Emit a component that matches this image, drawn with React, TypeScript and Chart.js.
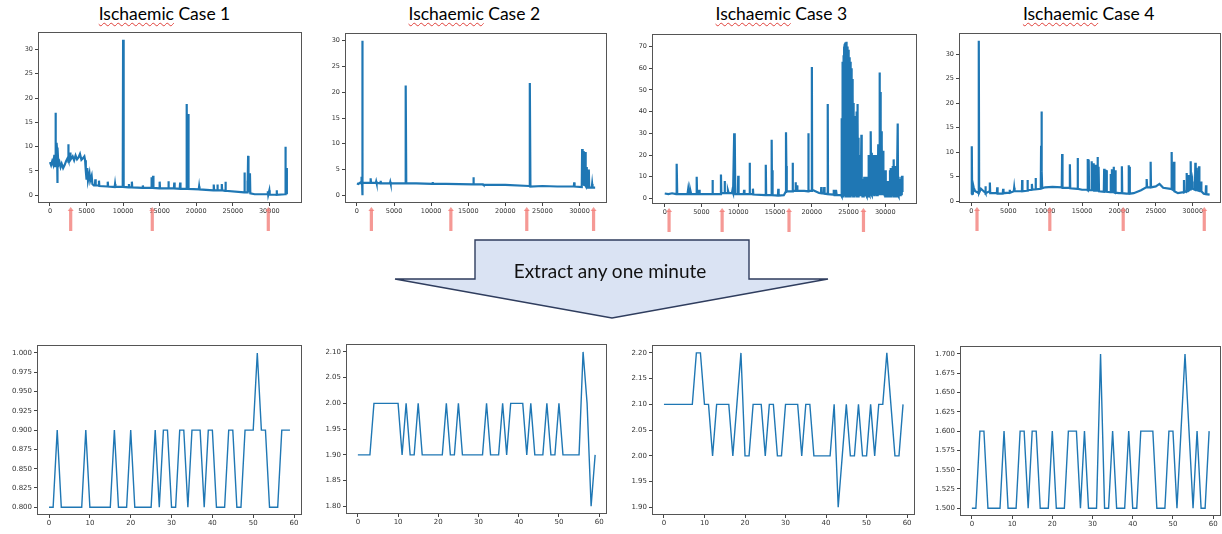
import React, { useEffect, useRef } from "react";
import { Chart, registerables } from "chart.js";
Chart.register(...registerables);

type Pt = [number, number];

// ---------- text ----------
const caseNames = ["Ischaemic Case 1", "Ischaemic Case 2", "Ischaemic Case 3", "Ischaemic Case 4"];
const arrowLabel = "Extract any one minute";

// ---------- ticks ----------
const topXTicks = [0, 5000, 10000, 15000, 20000, 25000, 30000];
const topYTicks30 = [0, 5, 10, 15, 20, 25, 30];
const topYTicks70 = [0, 10, 20, 30, 40, 50, 60, 70];
const minuteXTicks = [0, 10, 20, 30, 40, 50, 60];
const minuteYTicks1 = [0.8, 0.825, 0.85, 0.875, 0.9, 0.925, 0.95, 0.975, 1.0];
const minuteYTicks2 = [1.8, 1.85, 1.9, 1.95, 2.0, 2.05, 2.1];
const minuteYTicks3 = [1.9, 1.95, 2.0, 2.05, 2.1, 2.15, 2.2];
const minuteYTicks4 = [1.5, 1.525, 1.55, 1.575, 1.6, 1.625, 1.65, 1.675, 1.7];

// ---------- selected-minute markers (sample index) ----------
const case1Markers = [2830, 13990, 29860];
const case2Markers = [1950, 12660, 22890, 31890];
const case3Markers = [590, 7810, 16910, 27040];
const case4Markers = [760, 10630, 20580, 31570];

// ---------- full recordings (sample index, value) ----------
const case1Series: Pt[] = [
  [0, 6.8], [150, 6.2], [300, 7.0], [450, 6.3], [600, 8.3], [700, 6.0], [760, 6.2], [780, 17.0], [800, 6.5],
  [880, 6.3], [900, 10.8], [960, 9.5], [1000, 2.5], [1050, 9.8], [1150, 6.2], [1300, 6.8], [1450, 5.8], [1600, 6.5],
  [1800, 5.6], [2000, 6.2], [2200, 7.0], [2400, 7.6], [2480, 7.4], [2500, 10.5], [2550, 7.2], [2700, 7.5], [2750, 8.8],
  [2800, 7.3], [3100, 8.0], [3300, 7.2], [3500, 8.2], [3700, 7.4], [3900, 7.8], [4100, 8.5], [4300, 7.3], [4500, 7.6],
  [4700, 8.0], [4800, 7.2], [4900, 5.0], [5000, 3.2], [5100, 5.6], [5200, 3.0], [5400, 4.5], [5500, 3.0], [5700, 4.0],
  [5800, 2.3], [6000, 2.0], [6150, 2.0], [6200, 3.3], [6250, 2.0], [6650, 2.0], [6700, 3.0], [6750, 1.9], [7850, 1.8],
  [7900, 2.8], [7950, 1.8], [8850, 1.7], [8900, 2.3], [8950, 1.7], [9950, 1.7], [10000, 32.0], [10050, 15.5],
  [10100, 1.7], [10750, 1.6], [10800, 2.3], [10850, 1.6], [11150, 1.6], [11200, 2.8], [11250, 1.6], [12650, 1.5],
  [12700, 2.0], [12750, 1.5], [13850, 1.5], [13900, 3.7], [14000, 1.5], [14100, 4.0], [14150, 1.5], [14950, 1.4],
  [15000, 2.8], [15050, 1.4], [16150, 1.4], [16200, 2.9], [16250, 1.4], [16950, 1.4], [17000, 2.6], [17050, 1.4],
  [17750, 1.3], [17800, 2.6], [17850, 1.3], [18650, 1.3], [18700, 18.8], [18750, 1.3], [18800, 15.5], [18900, 16.7],
  [18950, 1.3], [20350, 1.2], [20400, 1.8], [20450, 1.2], [22350, 1.0], [22400, 2.2], [22450, 1.0], [22850, 1.0],
  [22900, 2.2], [22950, 1.0], [23450, 1.0], [23500, 2.3], [23550, 1.0], [23950, 0.9], [24000, 2.8], [24050, 0.9],
  [26550, 0.6], [26600, 4.7], [26650, 0.6], [26950, 0.6], [27000, 3.0], [27050, 0.8], [27100, 8.1], [27150, 1.0],
  [27300, 0.8], [27350, 4.5], [27400, 0.4], [28000, 0.2], [29750, 0.2], [29800, 0.8], [29850, 0.1], [29950, 0.1],
  [30000, 1.0], [30050, 0.1], [30950, 0.1], [31000, 1.0], [31050, 0.1], [32150, 0.2], [32200, 10.0], [32250, 2.0],
  [32300, 5.6], [32400, 0.2],
];

const case2Series: Pt[] = [
  [0, 2.3], [200, 2.2], [500, 2.5], [580, 2.3], [600, 3.6], [650, 2.3], [700, 2.3], [720, 30.0], [750, 0.0],
  [780, 2.4], [1200, 2.4], [1800, 2.4], [1850, 3.3], [1900, 2.4], [2550, 2.4], [2600, 2.7], [2650, 2.4], [3150, 2.3],
  [3200, 2.8], [3250, 2.3], [4450, 2.3], [4500, 2.6], [4550, 2.3], [6500, 2.3], [6550, 14.0], [6600, 21.3],
  [6650, 2.3], [8000, 2.3], [10150, 2.2], [10200, 2.6], [10250, 2.2], [12000, 2.2], [15650, 2.1], [15700, 3.5],
  [15750, 2.1], [17000, 2.1], [17050, 2.2], [17100, 2.0], [20000, 2.0], [23200, 1.8], [23280, 14.0], [23320, 21.8],
  [23380, 1.7], [25000, 1.8], [27000, 1.7], [29230, 1.7], [29280, 2.5], [29330, 1.7], [30300, 1.6], [30350, 9.0],
  [30380, 2.0], [30420, 8.8], [30450, 2.0], [30480, 8.6], [30510, 2.0], [30540, 8.5], [30570, 2.5], [30600, 8.5],
  [30630, 2.0], [30660, 8.4], [30690, 2.5], [30720, 8.3], [30750, 2.0], [30780, 8.4], [30810, 2.5], [30840, 7.0],
  [30870, 1.8], [30900, 5.5], [30950, 1.5], [31000, 4.5], [31050, 1.5], [31200, 1.5], [31250, 5.0], [31300, 1.5],
  [31650, 1.5], [31700, 2.2], [31750, 1.5], [32100, 1.5],
];

const case3Series: Pt[] = [
  [0, 2.3], [500, 2.0], [1000, 2.4], [1550, 2.0], [1600, 14.5], [1650, 16.0], [1700, 2.0], [3100, 2.0], [3200, 4.5],
  [3300, 2.0], [3450, 2.0], [3500, 3.5], [3600, 2.0], [4300, 2.0], [4350, 10.0], [4400, 2.0], [4650, 2.0], [4700, 4.0],
  [4750, 2.0], [6450, 2.0], [6500, 8.5], [6550, 2.0], [7600, 2.0], [7650, 11.0], [7700, 2.5], [8100, 2.5], [8150, 8.0],
  [8200, 2.5], [8550, 2.5], [8600, 3.7], [8700, 2.5], [9150, 2.5], [9200, 3.5], [9300, 2.5], [9400, 2.5], [9450, 30.0],
  [9500, 2.5], [9550, 29.5], [9600, 2.0], [9950, 2.0], [10000, 10.5], [10050, 2.0], [10750, 2.0], [10800, 4.0],
  [10850, 2.0], [11500, 2.0], [11550, 16.5], [11600, 2.0], [11950, 2.0], [12000, 4.5], [12050, 1.8], [13700, 1.5],
  [13750, 15.5], [13800, 1.5], [14500, 1.5], [14550, 27.0], [14600, 1.5], [14650, 13.0], [14700, 1.5], [15400, 1.3],
  [15450, 4.5], [15500, 1.3], [16200, 1.5], [16450, 3.0], [16500, 30.5], [16550, 15.0], [16600, 3.3], [17350, 3.3],
  [17400, 16.5], [17450, 3.5], [17750, 3.5], [17800, 7.5], [17850, 3.5], [17950, 3.5], [18000, 6.0], [18050, 3.5],
  [19000, 3.5], [19500, 3.3], [19520, 15.0], [19560, 30.0], [19600, 3.5], [20000, 3.5], [20020, 60.5], [20060, 4.0],
  [21000, 2.5], [21250, 2.4], [21300, 5.3], [21350, 2.3], [21650, 2.3], [21700, 5.3], [21750, 2.2], [22150, 2.0],
  [22180, 43.5], [22220, 2.0], [22950, 1.8], [23000, 4.0], [23100, 1.5], [23250, 1.5], [23300, 4.0], [23400, 1.5],
  [24000, 1.5],
  [24050, 10], [24080, 1], [24110, 37], [24140, 1], [24170, 20], [24200, 1], [24230, 63], [24260, 1], [24290, 50],
  [24320, 1], [24350, 66], [24380, 1], [24410, 70], [24440, 1], [24470, 71], [24500, 1], [24530, 71.5], [24560, 1],
  [24590, 72], [24620, 1], [24650, 72], [24680, 1], [24710, 72.2], [24740, 1], [24770, 71], [24800, 1], [24830, 70],
  [24860, 1], [24890, 69], [24920, 1], [24950, 68.5], [24980, 1], [25010, 68], [25040, 1], [25070, 66], [25100, 1],
  [25130, 65], [25160, 1], [25190, 64.5], [25220, 1], [25250, 63], [25280, 1], [25310, 61], [25340, 1], [25370, 60],
  [25400, 1], [25430, 59], [25460, 1], [25490, 55], [25520, 1], [25550, 52], [25580, 1], [25610, 48], [25640, 1],
  [25670, 44], [25700, 1], [25730, 40], [25760, 1], [25790, 38], [25820, 1], [25850, 37], [25880, 1], [25910, 37.5],
  [25940, 1], [25970, 36], [26000, 1], [26030, 36], [26060, 1], [26090, 37], [26120, 1], [26150, 40], [26180, 1],
  [26210, 43.5], [26240, 1], [26270, 35], [26300, 1], [26330, 28], [26360, 1], [26390, 22], [26420, 1], [26450, 20],
  [26480, 1], [26510, 14], [26540, 1], [26570, 10], [26600, 1], [26650, 6], [26700, 1], [26760, 29.3], [26800, 1],
  [26850, 5], [26900, 1],
  [27000, 1], [27050, 9], [27100, 1], [27150, 10], [27200, 1.5], [27250, 9.5], [27300, 1], [27350, 10], [27400, 1.5],
  [27450, 9], [27500, 1], [27550, 10], [27600, 1.5], [27650, 9], [27700, 1], [27750, 20], [27800, 2], [27850, 14],
  [27900, 1.5], [27950, 20], [28000, 2], [28050, 31], [28100, 2], [28150, 21], [28200, 1.5], [28250, 12], [28300, 1.5],
  [28350, 18], [28400, 2], [28450, 20], [28500, 1.5], [28550, 19], [28600, 2], [28650, 20], [28700, 1.5], [28750, 18],
  [28800, 2], [28850, 20], [28900, 1.5], [28950, 19], [29000, 2], [29050, 25], [29100, 1.5], [29150, 20], [29200, 2],
  [29230, 58], [29270, 2], [29330, 49], [29380, 1.5], [29450, 31], [29500, 2], [29550, 25], [29600, 1.5], [29700, 22],
  [29750, 1.5], [29850, 13], [29900, 1], [29950, 12], [30000, 1], [30050, 13], [30100, 1], [30200, 8], [30250, 1],
  [30350, 8], [30400, 1], [30500, 7.5], [30550, 1], [30650, 13], [30700, 1], [30750, 14], [30800, 1], [30850, 12],
  [30900, 1.5], [30950, 14], [31000, 1], [31050, 15], [31100, 1.5], [31150, 18], [31200, 1], [31300, 15], [31350, 1],
  [31450, 14], [31500, 1], [31550, 15], [31600, 1], [31700, 34.5], [31750, 1.5], [31800, 10], [31850, 1], [31900, 9],
  [31950, 1], [32050, 8], [32100, 1], [32200, 10], [32250, 1.5], [32300, 10.5], [32350, 3],
];

const case4Series: Pt[] = [
  [0, 1.4], [50, 11.2], [100, 1.5], [200, 3.5], [300, 2.8], [500, 2.0], [800, 1.8], [950, 1.6], [1000, 32.7],
  [1050, 1.7], [1300, 2.5], [1800, 1.8], [1850, 1.8], [1900, 3.0], [1950, 1.6], [2450, 2.0], [2500, 3.8], [2550, 1.6],
  [3450, 1.6], [3500, 2.8], [3550, 1.5], [4250, 1.5], [4300, 2.5], [4350, 1.6], [5150, 1.7], [5200, 2.3], [5250, 1.7],
  [5750, 2.0], [5800, 2.7], [5850, 2.0], [6850, 2.0], [6880, 4.3], [6920, 2.0], [7550, 2.1], [7600, 4.3], [7650, 2.2],
  [8150, 2.3], [8200, 3.5], [8250, 2.3], [8650, 2.4], [8700, 4.7], [8750, 2.4], [9400, 2.5], [9450, 11.3],
  [9500, 18.3], [9550, 6.0], [9600, 2.6], [10000, 2.8], [11000, 2.9], [12250, 2.8], [12300, 9.6], [12350, 2.7],
  [13300, 2.7], [13350, 7.5], [13400, 2.6], [14350, 2.5], [14400, 8.8], [14450, 2.5], [15000, 2.3], [15700, 2.3],
  [15750, 8.6], [15800, 2.2], [15850, 2.2], [15900, 8.5], [15950, 2.2], [16250, 2.2], [16290, 8.1], [16330, 2.2],
  [16410, 2.2], [16450, 7.5], [16500, 2.2], [16560, 2.2], [16600, 7.7], [16650, 2.1], [16790, 2.1], [16830, 7.4],
  [16870, 2.1], [17060, 2.1], [17100, 9.0], [17150, 2.1], [17200, 2.1], [17240, 7.0], [17300, 2.0], [17950, 1.9],
  [18000, 6.6], [18050, 1.9], [18140, 1.9], [18190, 6.4], [18240, 1.9], [18290, 1.9], [18330, 6.3], [18380, 1.9],
  [18820, 1.8], [18870, 5.5], [18920, 1.8], [19000, 1.8], [19050, 6.5], [19100, 1.8], [19230, 1.8], [19280, 7.0],
  [19330, 1.8], [19450, 1.7], [19500, 6.3], [19550, 1.7], [20000, 1.6], [20350, 1.6], [20400, 7.1], [20450, 1.6],
  [21000, 1.5], [21260, 1.5], [21310, 7.3], [21360, 1.5], [21400, 1.5], [21450, 7.0], [21500, 1.5], [22000, 1.6],
  [23000, 2.2], [23700, 2.8], [23760, 4.5], [23820, 2.8], [24250, 2.8], [24300, 8.0], [24350, 2.8], [25000, 3.0],
  [25500, 3.5], [26000, 2.7], [27000, 2.5], [27100, 2.5], [27150, 10.0], [27200, 2.4], [27420, 2.2], [27470, 8.0],
  [27520, 2.0], [28000, 1.6], [28770, 1.8], [28820, 4.3], [28870, 1.8], [29140, 2.0], [29190, 5.7], [29240, 2.0],
  [29410, 2.2], [29460, 5.3], [29510, 2.2], [29680, 2.4], [29730, 8.1], [29780, 2.5], [29900, 2.5], [29950, 4.0],
  [30000, 2.5], [30310, 2.3], [30360, 7.8], [30410, 2.3], [30490, 2.2], [30540, 6.8], [30590, 2.2], [30810, 2.1],
  [30860, 7.1], [30910, 2.1], [31080, 2.0], [31130, 4.0], [31180, 2.0], [31500, 1.5], [31760, 1.4], [31810, 3.2],
  [31860, 1.4], [32300, 1.3],
];

// ---------- extracted one-minute windows (seconds 0..59) ----------
const minute1 = [
  0.8, 0.8, 0.9, 0.8, 0.8, 0.8, 0.8, 0.8, 0.8, 0.9, 0.8, 0.8, 0.8, 0.8, 0.8, 0.8, 0.9, 0.8, 0.8, 0.8,
  0.9, 0.8, 0.8, 0.8, 0.8, 0.8, 0.9, 0.8, 0.9, 0.9, 0.8, 0.8, 0.9, 0.9, 0.8, 0.9, 0.9, 0.9, 0.8, 0.9,
  0.9, 0.8, 0.8, 0.8, 0.9, 0.9, 0.8, 0.8, 0.9, 0.9, 0.9, 1.0, 0.9, 0.9, 0.8, 0.8, 0.8, 0.9, 0.9, 0.9,
];
const minute2 = [
  1.9, 1.9, 1.9, 1.9, 2.0, 2.0, 2.0, 2.0, 2.0, 2.0, 2.0, 1.9, 2.0, 1.9, 1.9, 2.0, 1.9, 1.9, 1.9, 1.9,
  1.9, 1.9, 2.0, 1.9, 1.9, 2.0, 1.9, 1.9, 1.9, 1.9, 1.9, 1.9, 2.0, 1.9, 1.9, 1.9, 2.0, 1.9, 2.0, 2.0,
  2.0, 2.0, 1.9, 2.0, 1.9, 1.9, 1.9, 2.0, 1.9, 1.9, 2.0, 1.9, 1.9, 1.9, 1.9, 1.9, 2.1, 2.0, 1.8, 1.9,
];
const minute3 = [
  2.1, 2.1, 2.1, 2.1, 2.1, 2.1, 2.1, 2.1, 2.2, 2.2, 2.1, 2.1, 2.0, 2.1, 2.1, 2.1, 2.1, 2.0, 2.1, 2.2,
  2.0, 2.0, 2.1, 2.1, 2.1, 2.0, 2.1, 2.1, 2.0, 2.0, 2.1, 2.1, 2.1, 2.1, 2.0, 2.1, 2.1, 2.0, 2.0, 2.0,
  2.0, 2.0, 2.1, 1.9, 2.0, 2.1, 2.0, 2.0, 2.1, 2.0, 2.0, 2.1, 2.0, 2.1, 2.1, 2.2, 2.1, 2.0, 2.0, 2.1,
];
const minute4 = [
  1.5, 1.5, 1.6, 1.6, 1.5, 1.5, 1.5, 1.5, 1.6, 1.5, 1.5, 1.5, 1.6, 1.6, 1.5, 1.6, 1.6, 1.5, 1.5, 1.5,
  1.6, 1.5, 1.5, 1.5, 1.6, 1.6, 1.6, 1.5, 1.6, 1.5, 1.5, 1.5, 1.7, 1.5, 1.5, 1.6, 1.5, 1.5, 1.5, 1.6,
  1.5, 1.5, 1.6, 1.6, 1.6, 1.6, 1.5, 1.5, 1.5, 1.6, 1.6, 1.5, 1.6, 1.7, 1.6, 1.5, 1.6, 1.5, 1.5, 1.6,
];

// ---------- layout ----------
type Frame = { l: number; t: number; r: number; b: number };
type PanelCfg = {
  frame: Frame;
  points: Pt[];
  xRange: [number, number];
  yRange: [number, number];
  xTicks: number[];
  yTicks: number[];
  decimals: number;
  markers?: number[];
  lineWidth: number;
  fontSize: number;
};

const toPts = (arr: number[]): Pt[] => arr.map((v, i) => [i, v] as Pt);

const panels: PanelCfg[] = [
  { frame: { l: 38, t: 32, r: 302, b: 203 }, points: case1Series, xRange: [-1640, 34470], yRange: [-1.6, 33.6], xTicks: topXTicks, yTicks: topYTicks30, decimals: 0, markers: case1Markers, lineWidth: 2.2, fontSize: 6.5 },
  { frame: { l: 345, t: 33, r: 607, b: 203 }, points: case2Series, xRange: [-1605, 33700], yRange: [-1.5, 31.5], xTicks: topXTicks, yTicks: topYTicks30, decimals: 0, markers: case2Markers, lineWidth: 2.2, fontSize: 6.5 },
  { frame: { l: 652, t: 34, r: 917, b: 204 }, points: case3Series, xRange: [-1732, 34324], yRange: [-2.55, 75.75], xTicks: topXTicks, yTicks: topYTicks70, decimals: 0, markers: case3Markers, lineWidth: 2.2, fontSize: 6.5 },
  { frame: { l: 959, t: 33, r: 1221, b: 203 }, points: case4Series, xRange: [-1683, 33840], yRange: [-0.4, 34.3], xTicks: topXTicks, yTicks: topYTicks30, decimals: 0, markers: case4Markers, lineWidth: 2.2, fontSize: 6.5 },
  { frame: { l: 37, t: 345, r: 302, b: 515 }, points: toPts(minute1), xRange: [-2.95, 61.95], yRange: [0.79, 1.01], xTicks: minuteXTicks, yTicks: minuteYTicks1, decimals: 3, lineWidth: 1.4, fontSize: 7 },
  { frame: { l: 346, t: 344, r: 607, b: 514 }, points: toPts(minute2), xRange: [-2.95, 61.95], yRange: [1.785, 2.115], xTicks: minuteXTicks, yTicks: minuteYTicks2, decimals: 2, lineWidth: 1.4, fontSize: 7 },
  { frame: { l: 652, t: 345, r: 915, b: 515 }, points: toPts(minute3), xRange: [-2.95, 61.95], yRange: [1.885, 2.215], xTicks: minuteXTicks, yTicks: minuteYTicks3, decimals: 2, lineWidth: 1.4, fontSize: 7 },
  { frame: { l: 960, t: 346, r: 1221, b: 516 }, points: toPts(minute4), xRange: [-2.95, 61.95], yRange: [1.49, 1.71], xTicks: minuteXTicks, yTicks: minuteYTicks4, decimals: 3, lineWidth: 1.4, fontSize: 7 },
];

const titleCenters = [164.5, 474.3, 781.3, 1088.7];

const AX = 38;
const PT = 6;
const PR = 4;
const XH = 12;

function Panel({ cfg }: { cfg: PanelCfg }) {
  const ref = useRef<HTMLCanvasElement>(null);
  const { frame } = cfg;
  const bottomPad = cfg.markers ? 22 : 2;
  const W = frame.r - frame.l + AX + PR;
  const H = frame.b - frame.t + PT + XH + bottomPad;

  useEffect(() => {
    if (!ref.current) return;
    const fmt = (v: any) => Number(v).toFixed(cfg.decimals);
    const framePlugin = {
      id: "framePlugin",
      afterDraw(chart: any) {
        const { ctx, chartArea } = chart;
        ctx.save();
        ctx.strokeStyle = "#555";
        ctx.lineWidth = 1;
        ctx.strokeRect(
          Math.round(chartArea.left) + 0.5,
          Math.round(chartArea.top) + 0.5,
          Math.round(chartArea.right - chartArea.left) - 1,
          Math.round(chartArea.bottom - chartArea.top) - 1
        );
        if (cfg.markers) {
          const xs = chart.scales.x;
          ctx.fillStyle = "rgba(243, 128, 122, 0.8)";
          cfg.markers.forEach((m) => {
            const px = xs.getPixelForValue(m);
            const top = chartArea.bottom + 4;
            ctx.fillRect(px - 1.6, top + 3, 3.2, 21);
            ctx.beginPath();
            ctx.moveTo(px - 3, top + 4);
            ctx.lineTo(px, top);
            ctx.lineTo(px + 3, top + 4);
            ctx.closePath();
            ctx.fill();
          });
        }
        ctx.restore();
      },
    };
    const tickFont = { family: "'DejaVu Sans', sans-serif", size: cfg.fontSize };
    const chart = new Chart(ref.current, {
      type: "line",
      data: {
        datasets: [
          {
            data: cfg.points.map(([x, y]) => ({ x, y })),
            borderColor: "#1f77b4",
            borderWidth: cfg.lineWidth,
            pointRadius: 0,
            tension: 0,
            fill: false,
          },
        ],
      },
      options: {
        animation: false,
        responsive: false,
        maintainAspectRatio: false,
        devicePixelRatio: 1,
        layout: { padding: { left: 0, top: PT, right: PR, bottom: bottomPad } },
        plugins: { legend: { display: false }, tooltip: { enabled: false }, title: { display: false } },
        scales: {
          x: {
            type: "linear",
            min: cfg.xRange[0],
            max: cfg.xRange[1],
            afterBuildTicks: (s: any) => {
              s.ticks = cfg.xTicks.map((v) => ({ value: v }));
            },
            afterFit: (s: any) => {
              s.height = XH;
            },
            grid: { drawOnChartArea: false, drawTicks: true, tickLength: 3, color: "#444" },
            border: { display: false },
            ticks: {
              font: tickFont,
              color: "#333",
              padding: 1,
              maxRotation: 0,
              autoSkip: false,
              callback: (v: any) => String(Math.round(Number(v))),
            },
          },
          y: {
            type: "linear",
            min: cfg.yRange[0],
            max: cfg.yRange[1],
            afterBuildTicks: (s: any) => {
              s.ticks = cfg.yTicks.map((v) => ({ value: v }));
            },
            afterFit: (s: any) => {
              s.width = AX;
            },
            grid: { drawOnChartArea: false, drawTicks: true, tickLength: 3, color: "#444" },
            border: { display: false },
            ticks: {
              font: tickFont,
              color: "#333",
              padding: 2,
              autoSkip: false,
              callback: fmt,
            },
          },
        },
      } as any,
      plugins: [framePlugin],
    });
    return () => chart.destroy();
  }, []);

  return (
    <canvas
      ref={ref}
      width={W}
      height={H}
      style={{ position: "absolute", left: frame.l - AX, top: frame.t - PT, width: W, height: H }}
    />
  );
}

export default function App() {
  return (
    <div
      style={{
        position: "fixed",
        left: 0,
        top: 0,
        width: 1222,
        height: 534,
        overflow: "hidden",
        background: "#fff",
      }}
    >
      {caseNames.map((name, i) => {
        const [first, ...rest] = name.split(" ");
        return (
          <div
            key={name}
            style={{
              position: "absolute",
              left: titleCenters[i] - 150,
              top: 3,
              width: 300,
              textAlign: "center",
              fontFamily: "Lato, 'Open Sans', sans-serif",
              fontSize: 17.5,
              lineHeight: "21px",
              color: "#000",
              whiteSpace: "nowrap",
            }}
          >
            <span
              style={{
                textDecorationLine: "underline",
                textDecorationStyle: "wavy",
                textDecorationColor: "#e0403a",
                textDecorationThickness: "1px",
                textUnderlineOffset: "2px",
              }}
            >
              {first}
            </span>
            {" " + rest.join(" ")}
          </div>
        );
      })}
      {panels.map((p, i) => (
        <Panel key={i} cfg={p} />
      ))}
      <svg
        width={1222}
        height={534}
        style={{ position: "absolute", left: 0, top: 0, pointerEvents: "none" }}
      >
        <polygon
          points="475,240 749,240 749,279 828,279 612,318 395,279 475,279"
          fill="#dae3f3"
          stroke="#2f3d5e"
          strokeWidth={1.4}
          strokeLinejoin="miter"
        />
      </svg>
      <div
        style={{
          position: "absolute",
          left: 610 - 150,
          top: 259,
          width: 300,
          textAlign: "center",
          fontFamily: "Lato, 'Open Sans', sans-serif",
          fontSize: 19,
          lineHeight: "23px",
          color: "#111",
          whiteSpace: "nowrap",
        }}
      >
        {arrowLabel}
      </div>
    </div>
  );
}
